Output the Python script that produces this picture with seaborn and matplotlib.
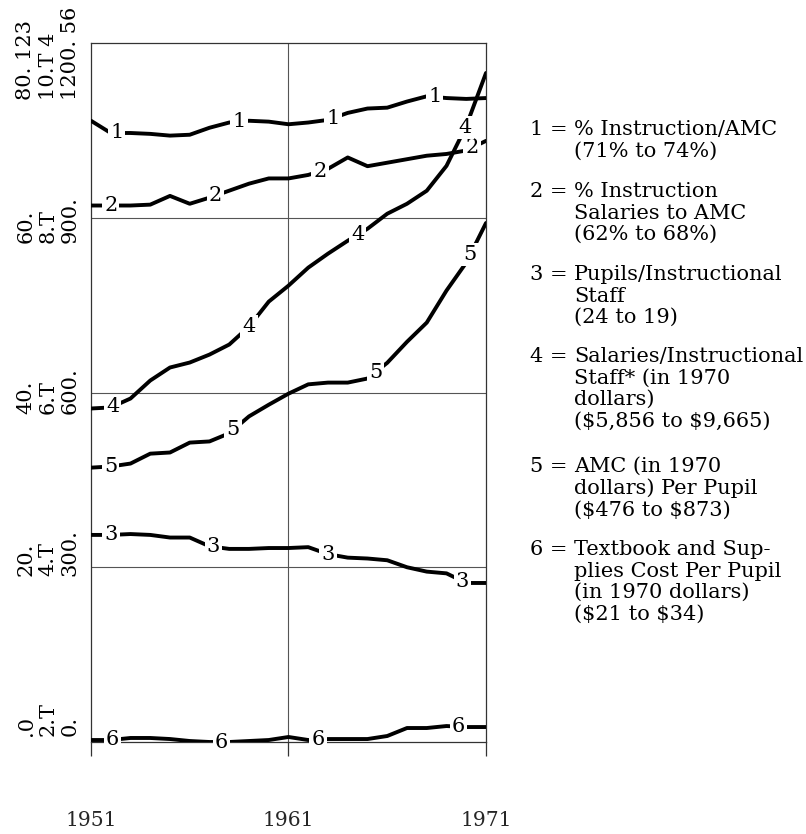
import numpy as np
import pandas as pd
import matplotlib
matplotlib.use("Agg")
import matplotlib.pyplot as plt
import matplotlib.transforms as mtransforms
import seaborn as sns

# ---------------- data ----------------
years = [1951, 1952, 1953, 1954, 1955, 1956, 1957, 1958, 1959, 1960, 1961,
         1962, 1963, 1964, 1965, 1966, 1967, 1968, 1969, 1970, 1971]

# series 1-3 on the first scale (0 - 80)
s1_pct_instruction = [71.1, 69.7, 69.7, 69.6, 69.4, 69.5, 70.3, 70.9, 71.1, 71.0, 70.7,
                      70.9, 71.2, 72.0, 72.5, 72.6, 73.3, 73.9, 73.7, 73.6, 73.7]
s2_pct_salaries = [61.4, 61.4, 61.4, 61.5, 62.5, 61.6, 62.3, 63.1, 63.9, 64.5, 64.5,
                   64.9, 65.6, 66.9, 65.9, 66.3, 66.7, 67.1, 67.3, 67.7, 68.8]
s3_pupils_staff = [23.7, 23.7, 23.8, 23.7, 23.4, 23.4, 22.4, 22.1, 22.1, 22.2, 22.2,
                   22.3, 21.5, 21.1, 21.0, 20.8, 20.0, 19.5, 19.3, 18.2, 18.2]
# series 4 on the second scale (2T - 10T dollars)
s4_salary_staff = [5817, 5829, 5931, 6137, 6286, 6343, 6434, 6549, 6754, 7040, 7223,
                   7429, 7589, 7737, 7874, 8046, 8160, 8309, 8594, 9051, 9657]
# series 5 and 6 on the third scale (0 - 1200)
s5_amc_pupil = [471, 473, 478, 495, 497, 514, 516, 530, 559, 579, 598,
                614, 617, 617, 624, 651, 687, 720, 775, 823, 891]
s6_textbook = [3.4, 3.4, 6.9, 6.9, 5.1, 1.7, 0.0, 0.0, 1.7, 3.4, 8.6,
               3.4, 5.1, 5.1, 5.1, 10.3, 24.0, 24.0, 27.4, 25.7, 25.7]

series_ids = ["1", "2", "3", "4", "5", "6"]

# inline number labels (years where the number sits on each curve)
label_years = {
    "1": [1952.3, 1958.5, 1963.25, 1968.4],
    "2": [1952.0, 1957.3, 1962.6, 1970.3],
    "3": [1952.0, 1957.2, 1963.0, 1969.8],
    "4": [1952.1, 1959.0, 1964.5, 1969.95],
    "5": [1952.0, 1958.2, 1965.4, 1970.2],
    "6": [1952.1, 1957.6, 1962.5, 1969.6],
}

xtick_years = [1951, 1961, 1971]
ytick_values = [0, 300, 600, 900, 1200]
ytick_labels = [".0\n2.T\n0.",
                "20.\n4.T\n300.",
                "40.\n6.T\n600.",
                "60.\n8.T\n900.",
                "80. 123\n10.T 4\n1200. 56"]

legend_numbers = ["1 =", "2 =", "3 =", "4 =", "5 =", "6 ="]
legend_texts = ["% Instruction/AMC\n(71% to 74%)",
                "% Instruction\nSalaries to AMC\n(62% to 68%)",
                "Pupils/Instructional\nStaff\n(24 to 19)",
                "Salaries/Instructional\nStaff* (in 1970\ndollars)\n(\\$5,856 to \\$9,665)",
                "AMC (in 1970\ndollars) Per Pupil\n(\\$476 to \\$873)",
                "Textbook and Sup-\nplies Cost Per Pupil\n(in 1970 dollars)\n(\\$21 to \\$34)"]

# ---------------- convert each series onto the common (0-1200) scale ----------------
plot_vals = {
    "1": np.array(s1_pct_instruction) * 15.0,
    "2": np.array(s2_pct_salaries) * 15.0,
    "3": np.array(s3_pupils_staff) * 15.0,
    "4": (np.array(s4_salary_staff) - 2000.0) * 0.15,
    "5": np.array(s5_amc_pupil, dtype=float),
    "6": np.array(s6_textbook, dtype=float),
}
df = pd.concat([pd.DataFrame({"year": years, "value": plot_vals[k], "series": k})
                for k in series_ids], ignore_index=True)

# ---------------- figure ----------------
sns.set_theme(style="white")
SERIF = ["DejaVu Serif", "Liberation Serif"]
plt.rcParams["font.family"] = SERIF
plt.rcParams["text.color"] = "black"

W, H = 806, 834
fig = plt.figure(figsize=(W / 100, H / 100), dpi=100)
fig.patch.set_facecolor("white")
ax = fig.add_axes([91 / W, 1 - 742 / H, (486 - 91) / W, (742 - 43) / H])

sns.lineplot(data=df, x="year", y="value", hue="series", palette=["black"] * 6,
             linewidth=2.8, legend=False, ax=ax, zorder=3)

ax.set_xlim(1951, 1971)
ax.set_ylim(0, 1200)
ax.set_xlabel("")
ax.set_ylabel("")

# grid and frame
for v in ytick_values[1:-1]:
    ax.axhline(v, color="#555555", lw=0.8, zorder=1)
ax.axvline(1961, color="#555555", lw=0.8, zorder=1)
for sp in ax.spines.values():
    sp.set_color("#333333")
    sp.set_linewidth(0.9)

ax.set_xticks(xtick_years)
ax.set_xticklabels([str(y) for y in xtick_years], fontsize=14.5)
ax.tick_params(axis="x", direction="out", length=10, width=0.9, color="#333333", pad=40,
               bottom=True)
ax.set_yticks([])

# rotated stacked y labels
label_bottom_offsets_px = [6, -9, -22, -25, -57]
for v, lab, off in zip(ytick_values, ytick_labels, label_bottom_offsets_px):
    tr = mtransforms.blended_transform_factory(fig.transFigure, ax.transData)
    tr = tr + mtransforms.ScaledTranslation(0, off / 100.0, fig.dpi_scale_trans)
    ax.text(48 / W, v, lab, transform=tr, rotation=90, rotation_mode="default",
            ha="center", va="bottom", multialignment="left", fontsize=15,
            linespacing=1.2, clip_on=False)

# inline numbers on the curves
for k in series_ids:
    for yr in label_years[k]:
        yv = np.interp(yr, years, plot_vals[k])
        ax.text(yr, yv, k, ha="center", va="center", fontsize=15, zorder=5,
                bbox=dict(boxstyle="square,pad=0.1", fc="white", ec="none"))

# legend block at right
group_tops_px = [120, 182, 265, 347, 457, 540]
for num, txt, top in zip(legend_numbers, legend_texts, group_tops_px):
    fig.text(530 / W, 1 - top / H, num, ha="left", va="top", fontsize=15)
    fig.text(574 / W, 1 - top / H, txt, ha="left", va="top", fontsize=15,
             linespacing=1.17)

fig.savefig("out.png", dpi=100, facecolor="white")
